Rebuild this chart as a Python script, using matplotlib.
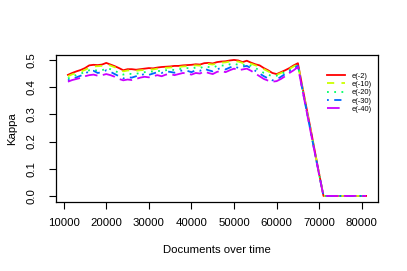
import matplotlib
matplotlib.use("Agg")
from matplotlib import pyplot as plt

# documents processed (x axis)
docs = [11000, 12000, 13000, 14000, 15000, 16000, 17000, 18000, 19000, 20000,
        21000, 22000, 23000, 24000, 25000, 26000, 27000, 28000, 29000, 30000,
        31000, 32000, 33000, 34000, 35000, 36000, 37000, 38000, 39000, 40000,
        41000, 42000, 43000, 44000, 45000, 46000, 47000, 48000, 49000, 50000,
        51000, 52000, 53000, 54000, 55000, 56000, 57000, 58000, 59000, 60000,
        61000, 62000, 63000, 64000, 65000, 66000, 67000, 68000, 69000, 70000,
        71000, 72000, 73000, 74000, 75000, 76000, 77000, 78000, 79000, 80000,
        81000]

tail = [0.0, 0.0, 0.0, 0.0, 0.0, 0.0, 0.0, 0.0, 0.0, 0.0]

kappa_e2 = [0.445, 0.452, 0.458, 0.463, 0.470, 0.480, 0.482, 0.481, 0.483, 0.489,
            0.483, 0.477, 0.470, 0.462, 0.466, 0.466, 0.464, 0.466, 0.468, 0.470,
            0.469, 0.472, 0.474, 0.475, 0.476, 0.478, 0.478, 0.480, 0.481, 0.482,
            0.484, 0.483, 0.488, 0.489, 0.487, 0.492, 0.494, 0.495, 0.498, 0.500,
            0.498, 0.492, 0.497, 0.490, 0.484, 0.480, 0.470, 0.462, 0.452, 0.448,
            0.455, 0.462, 0.470, 0.480, 0.488, 0.405, 0.325, 0.245, 0.162, 0.080,
            0.000] + tail
kappa_e10 = [0.440, 0.447, 0.452, 0.457, 0.463, 0.472, 0.476, 0.477, 0.478, 0.484,
             0.479, 0.473, 0.465, 0.458, 0.461, 0.462, 0.460, 0.462, 0.463, 0.466,
             0.465, 0.468, 0.470, 0.471, 0.472, 0.474, 0.474, 0.476, 0.477, 0.479,
             0.480, 0.479, 0.484, 0.485, 0.483, 0.488, 0.490, 0.491, 0.494, 0.495,
             0.494, 0.489, 0.493, 0.486, 0.480, 0.476, 0.466, 0.458, 0.449, 0.445,
             0.452, 0.459, 0.467, 0.476, 0.485, 0.402, 0.322, 0.242, 0.160, 0.079,
             0.000] + tail
kappa_e20 = [0.432, 0.438, 0.445, 0.450, 0.455, 0.462, 0.464, 0.460, 0.462, 0.468,
             0.466, 0.460, 0.452, 0.446, 0.450, 0.448, 0.449, 0.452, 0.455, 0.458,
             0.457, 0.460, 0.458, 0.462, 0.465, 0.463, 0.466, 0.468, 0.470, 0.468,
             0.472, 0.470, 0.476, 0.474, 0.472, 0.478, 0.480, 0.478, 0.484, 0.486,
             0.482, 0.480, 0.485, 0.478, 0.470, 0.462, 0.452, 0.446, 0.440, 0.442,
             0.448, 0.455, 0.462, 0.472, 0.480, 0.398, 0.318, 0.238, 0.158, 0.078,
             0.000] + tail
kappa_e30 = [0.425, 0.430, 0.436, 0.442, 0.450, 0.458, 0.460, 0.452, 0.455, 0.462,
             0.456, 0.448, 0.440, 0.432, 0.436, 0.435, 0.440, 0.444, 0.448, 0.445,
             0.450, 0.455, 0.452, 0.458, 0.456, 0.453, 0.458, 0.462, 0.460, 0.455,
             0.462, 0.460, 0.468, 0.462, 0.458, 0.466, 0.470, 0.465, 0.472, 0.478,
             0.470, 0.475, 0.478, 0.470, 0.460, 0.450, 0.440, 0.432, 0.425, 0.428,
             0.438, 0.448, 0.458, 0.468, 0.478, 0.396, 0.316, 0.236, 0.156, 0.077,
             0.000] + tail
kappa_e40 = [0.420, 0.426, 0.430, 0.434, 0.440, 0.444, 0.446, 0.442, 0.444, 0.448,
             0.444, 0.438, 0.430, 0.425, 0.428, 0.426, 0.430, 0.435, 0.438, 0.436,
             0.440, 0.444, 0.440, 0.446, 0.448, 0.444, 0.448, 0.452, 0.450, 0.446,
             0.452, 0.450, 0.458, 0.452, 0.448, 0.456, 0.460, 0.455, 0.462, 0.468,
             0.462, 0.465, 0.468, 0.460, 0.450, 0.440, 0.430, 0.424, 0.420, 0.422,
             0.430, 0.440, 0.452, 0.462, 0.474, 0.394, 0.314, 0.234, 0.155, 0.076,
             0.000] + tail

labels = ["e(-2)", "e(-10)", "e(-20)", "e(-30)", "e(-40)"]
series = [kappa_e2, kappa_e10, kappa_e20, kappa_e30, kappa_e40]
colors = ["#FF0000", "#CCFF00", "#00FF66", "#0066FF", "#CC00FF"]
dashes = [None, (4, 4), (1, 3), (1, 3, 4, 3), (7, 3)]

plt.rcParams['font.family'] = ['Liberation Sans', 'DejaVu Sans']

fig = plt.figure(figsize=(4.07, 2.71), dpi=100)
ax = fig.add_axes([56 / 407, 1 - 201.5 / 271, (378 - 56) / 407, (201.5 - 55.3) / 271])

for ys, lab, col, d in zip(series, labels, colors, dashes):
    line, = ax.plot(docs, ys, color=col, linewidth=1.3, label=lab)
    if d is not None:
        line.set_dashes(d)

ax.set_xlim(8200, 83800)
ax.set_ylim(-0.0205, 0.517)
ax.set_xticks([10000, 20000, 30000, 40000, 50000, 60000, 70000, 80000])
ax.set_yticks([0.0, 0.1, 0.2, 0.3, 0.4, 0.5])
ax.set_yticklabels(["0.0", "0.1", "0.2", "0.3", "0.4", "0.5"], rotation=90, va='center')
ax.tick_params(length=5, width=0.8, labelsize=8.2, pad=7)
ax.tick_params(axis='y', pad=9)
for s in ax.spines.values():
    s.set_linewidth(0.9)

ax.set_xlabel("Documents over time", fontsize=8.2, labelpad=12)
ax.set_ylabel("Kappa", fontsize=8.2, labelpad=7)

ax.legend(loc='upper right', bbox_to_anchor=(1.0, 0.93), frameon=False,
          fontsize=5.4, handlelength=2.4, handletextpad=0.8, labelspacing=0.15)

fig.savefig("out.png", dpi=100)
